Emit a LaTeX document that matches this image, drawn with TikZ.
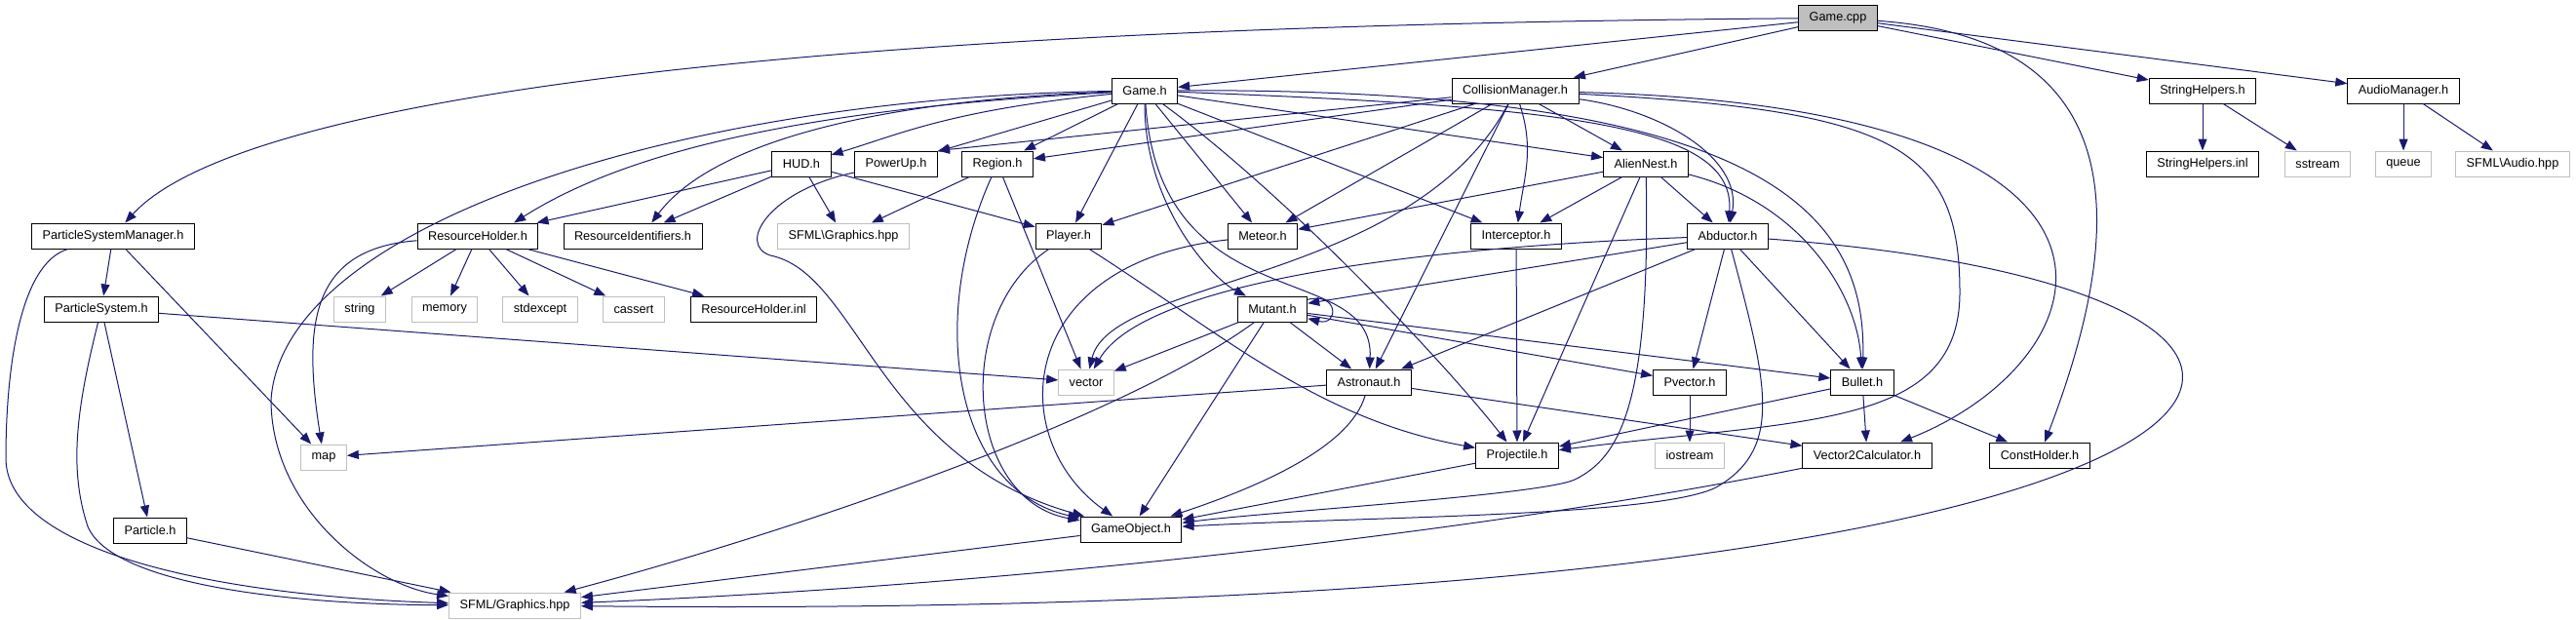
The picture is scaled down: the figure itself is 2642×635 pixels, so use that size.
\documentclass[tikz,border=0pt]{standalone}
\usepackage{fontspec}
\setmainfont{Liberation Sans}
\usetikzlibrary{arrows.meta}
\definecolor{edgeblue}{RGB}{25,25,112}
\definecolor{extgray}{RGB}{191,191,191}

\begin{document}
\begin{tikzpicture}[x=1pt,y=-1pt,font=\fontsize{12.7}{15}\selectfont,
 hdr/.style={draw,line width=1pt,minimum height=26pt,inner xsep=11pt,inner ysep=0pt},
 ext/.style={hdr,draw=extgray},
 src/.style={hdr,fill=extgray},
 inc/.style={draw=edgeblue,line width=1pt,-{Triangle[length=12pt,width=9pt]}}]
\useasboundingbox (0,0) rectangle (2642,635);
\node[src] (gcpp) at (1885,18.5) {Game.cpp};
\node[hdr] (gameh) at (1174,93) {Game.h};
\node[hdr] (collm) at (1554,93) {CollisionManager.h};
\node[hdr] (strh) at (2259,93) {StringHelpers.h};
\node[hdr] (audm) at (2465,93) {AudioManager.h};
\node[hdr] (hud) at (822,168) {HUD.h};
\node[hdr] (powerup) at (919,168) {PowerUp.h};
\node[hdr] (region) at (1023,168) {Region.h};
\node[hdr] (alien) at (1688,168) {AlienNest.h};
\node[hdr] (strinl) at (2259,168) {StringHelpers.inl};
\node[ext] (sstream) at (2377,168) {sstream};
\node[ext] (queue) at (2465,168) {queue};
\node[ext] (sfaudio) at (2577,168) {SFML\textbackslash{}Audio.hpp};
\node[hdr] (psm) at (116,242) {ParticleSystemManager.h};
\node[hdr] (resh) at (490,242) {ResourceHolder.h};
\node[hdr] (resid) at (649,242) {ResourceIdentifiers.h};
\node[ext] (sfgfxb) at (865,242) {SFML\textbackslash{}Graphics.hpp};
\node[hdr] (player) at (1096,242) {Player.h};
\node[hdr] (meteor) at (1295,242) {Meteor.h};
\node[hdr] (intercept) at (1555,242) {Interceptor.h};
\node[hdr] (abductor) at (1772,242) {Abductor.h};
\node[hdr] (psys) at (104,317) {ParticleSystem.h};
\node[ext] (string) at (369,317) {string};
\node[ext] (memory) at (456,317) {memory};
\node[ext] (stdexcept) at (554,317) {stdexcept};
\node[ext] (cassert) at (650,317) {cassert};
\node[hdr] (resinl) at (773,317) {ResourceHolder.inl};
\node[hdr] (mutant) at (1305,317) {Mutant.h};
\node[ext] (vector) at (1114,392) {vector};
\node[hdr] (astro) at (1404,392) {Astronaut.h};
\node[hdr] (pvector) at (1733,392) {Pvector.h};
\node[hdr] (bullet) at (1910,392) {Bullet.h};
\node[ext] (map) at (332,469) {map};
\node[hdr] (proj) at (1556,467) {Projectile.h};
\node[ext] (iostream) at (1733,467) {iostream};
\node[hdr] (v2c) at (1915,467) {Vector2Calculator.h};
\node[hdr] (consth) at (2092,467) {ConstHolder.h};
\node[hdr] (particle) at (154,544) {Particle.h};
\node[hdr] (gameobj) at (1160,543) {GameObject.h};
\node[ext] (sfgfx) at (528,621) {SFML/Graphics.hpp};
\foreach \a/\b in {gcpp/gameh,gcpp/collm,gcpp/strh,gcpp/audm,
 strh/strinl,strh/sstream,audm/queue,audm/sfaudio,
 gameh/powerup,gameh/region,gameh/player,gameh/meteor,gameh/intercept,gameh/alien,
 collm/powerup.north east,collm/region,collm/player,collm/meteor,collm/astro,collm/alien,
 hud/resh,hud/resid,hud/sfgfxb,hud/player,region/sfgfxb,region/vector,intercept/proj,
 alien/meteor,alien/intercept,alien/abductor,alien/proj,
 abductor/mutant,abductor/astro,abductor/pvector,abductor/bullet,
 mutant/vector,mutant/astro,mutant/gameobj,mutant/pvector,mutant/bullet,
 astro/map,astro/v2c,pvector/iostream,proj/gameobj,bullet/proj,bullet/v2c,bullet/consth,
 gameobj/sfgfx,particle/sfgfx,psm/psys,psm/map,psys/particle,psys/vector,
 resh/string,resh/memory,resh/stdexcept,resh/cassert,resh/resinl}
 \draw[inc] (\a) -- (\b);
\draw[inc] (gcpp) .. controls +(-1300,10) and +(100,-110) .. (psm);
\draw[inc] (gcpp) .. controls +(315,22) and +(83,-217) .. (consth);
\draw[inc] (gameh) .. controls +(-475,7) and (290,230) .. (278,410) .. controls (278,520) and (380,600) .. (sfgfx);
\draw[inc] (gameh) .. controls +(-324,17) and +(124,-79) .. (resh.20);
\draw[inc] (gameh) .. controls +(-284,10) and +(60,-80) .. (resid.35);
\draw[inc] (gameh) .. controls +(-200,20) and +(100,-30) .. (hud);
\draw[inc] (gameh) .. controls +(150,110) and +(-70,-90) .. (proj);
\draw[inc] (gameh) .. controls +(0,120) and +(-60,-30) .. (mutant);
\draw[inc] (gameh) .. controls +(16,237) and +(6,-127) .. (astro);
\draw[inc] (gameh) .. controls +(446,17) and +(8,-112) .. (abductor);
\draw[inc] (gameh) .. controls +(626,-3) and +(5,-180) .. (bullet);
\draw[inc] (collm) .. controls +(-104,197) and +(26,-107) .. (vector);
\draw[inc] (collm) .. controls +(20,60) and +(8,-60) .. (intercept);
\draw[inc] (collm) .. controls +(150,20) and +(15,-80) .. (abductor);
\draw[inc] (collm) .. controls +(390,20) and (2010,150) .. (2010,300) .. controls (2010,440) and (1850,430) .. (proj);
\draw[inc] (collm) .. controls +(696,17) and +(245,-97) .. (v2c);
\draw[inc] (powerup) .. controls +(-129,27) and (755,250) .. (790,262) .. controls (880,280) and (900,470) .. (gameobj);
\draw[inc] (region) .. controls +(-73,162) and +(-180,-40) .. (gameobj);
\draw[inc] (player) .. controls +(-120,80) and +(-170,-30) .. (gameobj);
\draw[inc] (player) .. controls +(154,98) and (1350,430) .. (proj);
\draw[inc] (meteor) .. controls +(-255,28) and +(-130,-93) .. (gameobj);
\draw[inc] (alien) .. controls +(5,250) and (1660,470) .. (1615,492) .. controls (1580,508) and (1300,525) .. (gameobj);
\draw[inc] (alien) .. controls +(160,40) and +(-5,-90) .. (bullet);
\draw[inc] (abductor) .. controls +(-352,13) and +(56,-97) .. (vector);
\draw[inc] (abductor) .. controls +(40,150) and (1830,460) .. (1760,500) .. controls (1700,530) and (1400,530) .. (gameobj);
\draw[inc] (abductor) .. controls +(788,58) and +(1892,19) .. (sfgfx);
\draw[inc] (mutant.15) .. controls +(32,-8) and +(32,8) .. (mutant.-15);
\draw[inc] (mutant) .. controls +(-150,110) and +(300,-80) .. (sfgfx);
\draw[inc] (astro) .. controls +(-20,70) and +(120,-40) .. (gameobj);
\draw[inc] (v2c) .. controls +(-400,80) and +(500,-20) .. (sfgfx);
\draw[inc] (psm) .. controls +(-96,28) and (6,380) .. (6,470) .. controls (6,560) and (200,610) .. (sfgfx);
\draw[inc] (psys) .. controls +(-25,100) and (70,480) .. (90,540) .. controls (115,600) and (300,620) .. (sfgfx);
\draw[inc] (resh) .. controls +(-170,13) and +(-22,-139) .. (map);
\end{tikzpicture}
\end{document}
